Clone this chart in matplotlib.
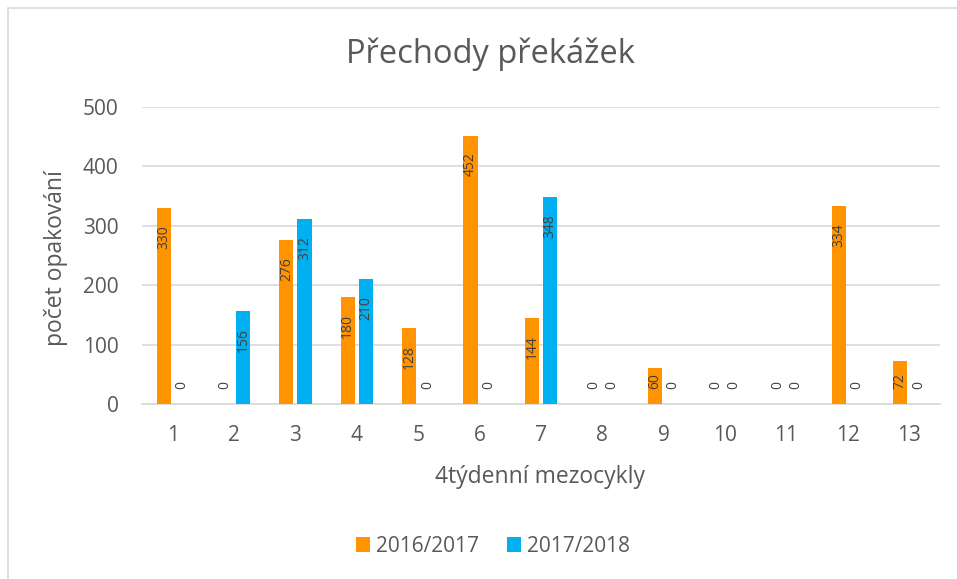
import matplotlib.pyplot as plt
import numpy as np
from matplotlib.patches import Rectangle

# data
mezocykly = [str(i) for i in range(1, 14)]
rok_2016 = [330, 0, 276, 180, 128, 452, 144, 0, 60, 0, 0, 334, 72]
rok_2017 = [0, 156, 312, 210, 0, 0, 348, 0, 0, 0, 0, 0, 0]

barva_2016 = '#FF9300'
barva_2017 = '#00B0F0'
text_barva = '#595959'

plt.rcParams['font.family'] = ['Open Sans', 'DejaVu Sans']

fig = plt.figure(figsize=(9.57, 5.79), dpi=100)
ax = fig.add_axes([142 / 957, 1 - 404 / 579, (940 - 142) / 957, (404 - 107) / 579])

x = np.arange(len(mezocykly))
sirka = 0.23
posun = 0.148
b1 = ax.bar(x - posun, rok_2016, sirka, color=barva_2016, label='2016/2017', zorder=3)
b2 = ax.bar(x + posun, rok_2017, sirka, color=barva_2017, label='2017/2018', zorder=3)

# popisky hodnot, svisle - spodni okraj popisku ~41 px pod vrcholem sloupce,
# ale nejniz ~15 px nad osou (jako v Excelu)
for bars in (b1, b2):
    for b in bars:
        h = b.get_height()
        cx = b.get_x() + b.get_width() / 2
        y_pop = max(h - 69, 26)
        ax.text(cx, y_pop, str(int(h)), rotation=90, ha='center', va='bottom',
                fontsize=10, color='#404040', zorder=4)

ax.set_xlim(-0.5, len(mezocykly) - 0.5)
ax.set_ylim(0, 500)
ax.set_yticks(range(0, 501, 100))
ax.set_xticks(x)
ax.set_xticklabels(mezocykly)
ax.yaxis.grid(True, color='#D9D9D9', linewidth=1.2, zorder=0)
ax.tick_params(axis='both', length=0, labelsize=15, colors=text_barva)
ax.tick_params(axis='x', pad=15)
ax.tick_params(axis='y', pad=17)
for s in ['top', 'right', 'left']:
    ax.spines[s].set_visible(False)
ax.spines['bottom'].set_color('#D9D9D9')
ax.spines['bottom'].set_linewidth(1.2)

ax.set_xlabel('4týdenní mezocykly', fontsize=16.5, color=text_barva)
ax.set_ylabel('počet opakování', fontsize=16.5, color=text_barva)
ax.xaxis.set_label_coords((540 - 142) / 798, (404 - 477) / 297)
ax.yaxis.set_label_coords((56 - 142) / 798, (404 - 258) / 297)
ax.xaxis.label.set_va('center')
ax.yaxis.label.set_va('center')

fig.text(490 / 957, 1 - 54 / 579, 'Přechody překážek', fontsize=23.5, color=text_barva,
         ha='center', va='center')

fig.legend(handles=[b1, b2], loc='center', bbox_to_anchor=(493 / 957, 1 - 546 / 579),
           ncol=2, frameon=False, fontsize=15, labelcolor=text_barva,
           handlelength=0.7, handleheight=0.7, handletextpad=0.3, columnspacing=1.3)

# ramecek grafu (vpravo a dole oriznuty)
fig.patches.append(Rectangle((8 / 957, -0.1), 1.1, 1 - 8 / 579 + 0.1, transform=fig.transFigure,
                             fill=False, edgecolor='#D9D9D9', linewidth=1.2))

fig.savefig('out.png', dpi=100)
